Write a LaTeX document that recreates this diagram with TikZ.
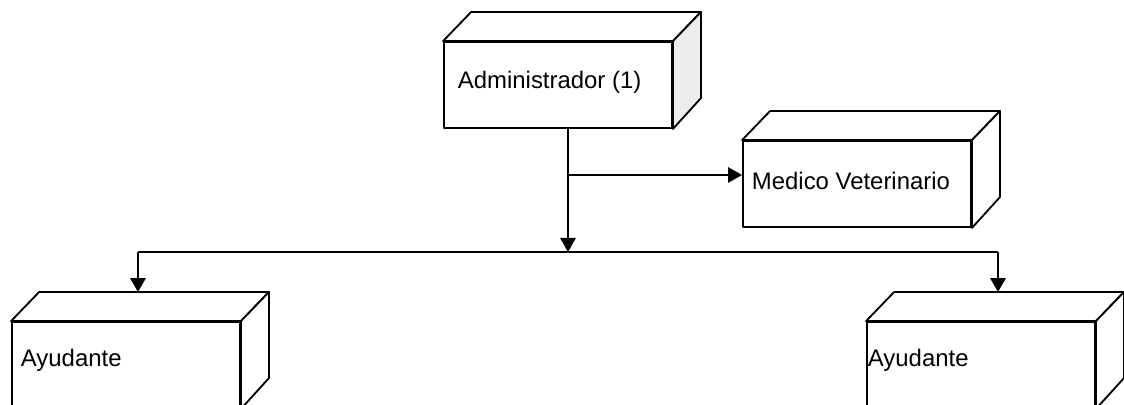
\documentclass[tikz,border=0pt]{standalone}
\usepackage{fontspec}
\setmainfont{Liberation Sans}
\usetikzlibrary{positioning}
\usetikzlibrary{calc}
\usetikzlibrary{arrows.meta}
\tikzset{caja/.style={draw,line width=1.3pt,minimum width=5.7cm,minimum height=2.15cm,inner sep=0pt}}
\tikzset{texto/.style={inner sep=0pt,font=\fontsize{17}{20}\selectfont}}
\tikzset{flecha/.style={line width=1.3pt,-{Triangle[length=10pt,width=11pt]}}}

\begin{document}
\begin{tikzpicture}[x=0.025cm, y=-0.025cm, line width=1.3pt, line join=round]
        \useasboundingbox (0,0) rectangle (1124,405);
        \node[caja] (adm) at (558,85) {};
        \node[caja] (med) at (857,184) {};
        \node[caja] (ay1) at (126,365) {};
        \node[caja] (ay2) at (981,365) {};
        \node[texto, right=0.35cm of adm.west, yshift=2pt] (tadm) {Administrador (1)};
        \node[texto, right=0.225cm of med.west, yshift=2pt] (tmed) {Medico Veterinario};
        \node[texto, right=0.225cm of ay1.west, yshift=3pt] (tay1) {Ayudante};
        \node[texto, right=0.025cm of ay2.west, yshift=3pt] (tay2) {Ayudante};
        % caras de arriba y del lado
        \foreach \n/\c in {adm/gray!15, med/white, ay1/white, ay2/white}{
            \draw (\n.north west) -- ++(28,-29) -- ($(\n.north east)+(28,-29)$) -- (\n.north east) -- cycle;
            \draw[fill=\c] (\n.north east) -- ++(28,-29) -- ++(0,86) -- (\n.south east) -- cycle;
            \coordinate (\n-t) at ($(\n.north)+(14,-29)$);
        }
        \coordinate (j1) at (568,175);
        \coordinate (j2) at (568,252);
        \coordinate (b1) at (138,252);
        \coordinate (b2) at (998,252);
        \draw[flecha] (adm.south -| j1) -- (j2);
        \draw[flecha] (j1) -- (j1 -| med.west);
        \draw (b1) -- (b2);
        \draw[flecha] (b1) -- (b1 |- ay1-t);
        \draw[flecha] (b2) -- (b2 |- ay2-t);
    \end{tikzpicture}
\end{document}
